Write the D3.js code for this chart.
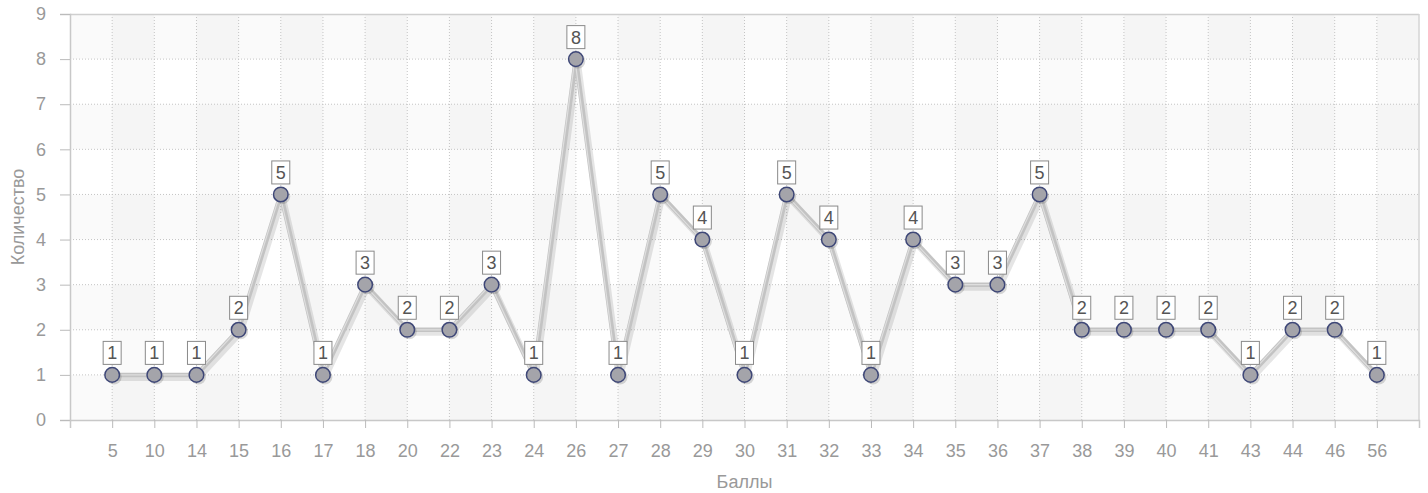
<!DOCTYPE html>
<html>
<head>
<meta charset="utf-8">
<script src="https://cdn.jsdelivr.net/npm/d3@7"></script>
<style>
  body { margin: 0; background: #fff; }
  svg { display: block; font-family: "Liberation Sans", Arial, sans-serif; }
</style>
</head>
<body>
<div id="chart"></div>
<script>
// scores (x categories) and how many got each
const scores = ["5","10","14","15","16","17","18","20","22","23","24","26","27","28","29","30","31","32","33","34","35","36","37","38","39","40","41","43","44","46","56"];
const counts = [1,1,1,2,5,1,3,2,2,3,1,8,1,5,4,1,5,4,1,4,3,3,5,2,2,2,2,1,2,2,1];
const yTicks = [0,1,2,3,4,5,6,7,8,9];
const xTitle = "Баллы";
const yTitle = "Количество";

const width = 1428, height = 493;
const margin = {top: 14, left: 70, right: 9, bottom: 73};
const innerW = width - margin.left - margin.right;
const innerH = height - margin.top - margin.bottom;

const data = scores.map((s, i) => ({score: s, count: counts[i]}));

const svg = d3.select("#chart").append("svg")
  .attr("width", width).attr("height", height);
const g = svg.append("g").attr("transform", `translate(${margin.left},${margin.top})`);

const x = d3.scalePoint().domain(scores).range([0, innerW]).padding(1);
const y = d3.scaleLinear().domain([0, 9]).range([innerH, 0]);
const step = x.step();

// alternating background bands
const rows = d3.range(9);
g.selectAll(".hband").data(rows.filter(r => r % 2 === 0)).enter().append("rect")
  .attr("x", 0).attr("width", innerW)
  .attr("y", d => y(d + 1)).attr("height", d => y(d) - y(d + 1))
  .attr("fill", "rgba(0,0,0,0.02)");
const cols = d3.range(scores.length + 1);
g.selectAll(".vband").data(cols.filter(c => c % 2 === 1)).enter().append("rect")
  .attr("y", 0).attr("height", innerH)
  .attr("x", d => d * step).attr("width", d => Math.min(step, innerW - d * step))
  .attr("fill", "rgba(0,0,0,0.018)");

// grid
g.selectAll(".hgrid").data(yTicks.slice(1, -1)).enter().append("line")
  .attr("x1", 0).attr("x2", innerW)
  .attr("y1", d => y(d)).attr("y2", d => y(d))
  .attr("stroke", "#c4c4c4").attr("stroke-dasharray", "1,2");
g.selectAll(".vgrid").data(scores).enter().append("line")
  .attr("x1", d => x(d)).attr("x2", d => x(d))
  .attr("y1", 0).attr("y2", innerH)
  .attr("stroke", "#c4c4c4").attr("stroke-dasharray", "1,2");

// frame
g.append("line").attr("x1", 0).attr("x2", innerW).attr("y1", 0.5).attr("y2", 0.5).attr("stroke", "#cfcfcf").attr("stroke-width", 1.5);
g.append("line").attr("x1", innerW).attr("x2", innerW).attr("y1", 0).attr("y2", innerH).attr("stroke", "#d4d4d4").attr("stroke-width", 1.5);

// y axis
const yAxis = d3.axisLeft(y).tickValues(yTicks).tickSize(10).tickPadding(14);
const ya = g.append("g").call(yAxis);
ya.select(".domain").attr("stroke", "#c8c8c8").attr("stroke-width", 1.5);
ya.selectAll(".tick line").attr("stroke", "#bbb");
ya.selectAll(".tick text").attr("fill", "#999").attr("font-size", 18);

// x axis
const xAxis = d3.axisBottom(x).tickSize(8).tickPadding(16).tickSizeOuter(8);
const xa = g.append("g").attr("transform", `translate(0,${innerH})`).call(xAxis);
xa.select(".domain").attr("stroke", "#c8c8c8").attr("stroke-width", 1.5);
xa.selectAll(".tick line").attr("stroke", "#bbb");
xa.selectAll(".tick text").attr("fill", "#999").attr("font-size", 18);

// axis titles
svg.append("text").attr("x", margin.left + innerW / 2).attr("y", 488)
  .attr("text-anchor", "middle").attr("fill", "#999").attr("font-size", 18).text(xTitle);
svg.append("text").attr("transform", `translate(24,${margin.top + innerH / 2}) rotate(-90)`)
  .attr("text-anchor", "middle").attr("fill", "#999").attr("font-size", 18).text(yTitle);

// line
const line = d3.line().x(d => x(d.score)).y(d => y(d.count));
g.append("path").datum(data).attr("d", line)
  .attr("transform", "translate(2,3)")
  .attr("fill", "none").attr("stroke", "rgba(0,0,0,0.1)").attr("stroke-width", 6)
  .attr("stroke-linejoin", "round");
g.append("path").datum(data).attr("d", line)
  .attr("fill", "none").attr("stroke", "#c3c3c3").attr("stroke-width", 4.5)
  .attr("stroke-linejoin", "round");
g.append("path").datum(data).attr("d", line)
  .attr("transform", "translate(-1,0)")
  .attr("fill", "none").attr("stroke", "#dedede").attr("stroke-width", 1.2)
  .attr("stroke-linejoin", "round");

// markers
const pts = g.selectAll(".pt").data(data).enter().append("g")
  .attr("transform", d => `translate(${x(d.score)},${y(d.count)})`);
pts.append("circle").attr("cx", 2).attr("cy", 2).attr("r", 7.5).attr("fill", "rgba(0,0,0,0.15)");
pts.append("circle").attr("r", 7.3).attr("fill", "#a4a4aa").attr("stroke", "#3e4777").attr("stroke-width", 1.5);

// value labels
const lab = pts.append("g").attr("transform", "translate(0,-22)");
lab.append("rect").attr("x", -9).attr("y", -11.5).attr("width", 18).attr("height", 23)
  .attr("fill", "#fff").attr("stroke", "#8a8a8a");
lab.append("text").attr("text-anchor", "middle").attr("dy", "0.36em")
  .attr("fill", "#555").attr("font-size", 18).text(d => d.count);
</script>
</body>
</html>
